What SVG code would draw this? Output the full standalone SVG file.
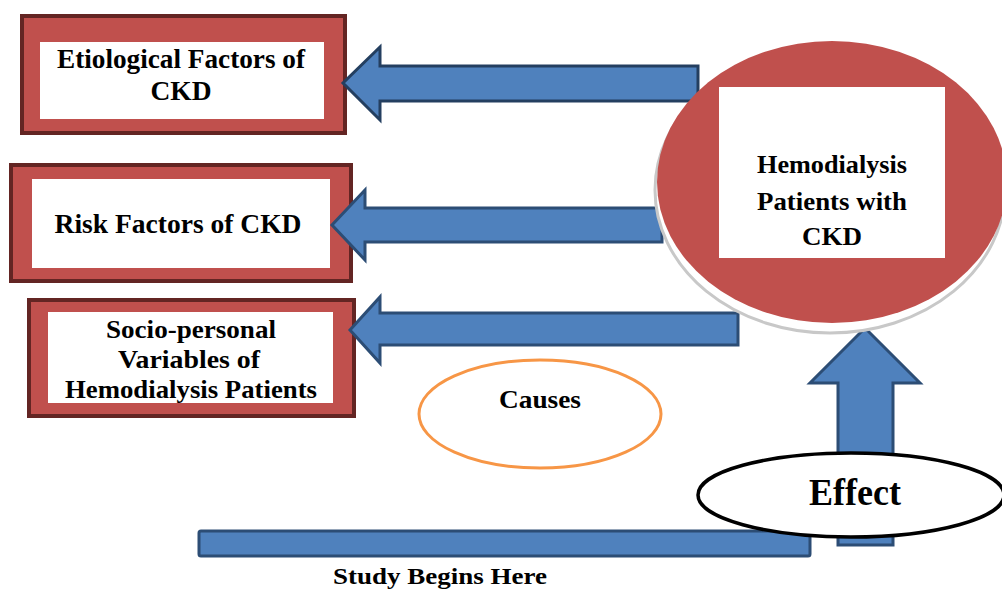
<svg xmlns="http://www.w3.org/2000/svg" width="1002" height="589" viewBox="0 0 1002 589">
<style>
.box{fill:#C0504D;stroke:#632523;stroke-width:4}
.inner{fill:#ffffff}
.t{font-family:"Liberation Serif","Times New Roman",serif;font-weight:bold;fill:#000;text-anchor:middle}
.arr{fill:#4F81BD;stroke:#2C4D75;stroke-width:3;stroke-linejoin:miter}
</style>
<rect width="1002" height="589" fill="#ffffff"/>
<g id="node-etiological">
<rect class="box" x="22" y="16" width="323" height="117"/>
<rect class="inner" x="40" y="42" width="284" height="77"/>
<text class="t" x="181" y="68" font-size="27" textLength="248" lengthAdjust="spacingAndGlyphs">Etiological Factors of</text>
<text class="t" x="181" y="100" font-size="27" textLength="61" lengthAdjust="spacingAndGlyphs">CKD</text>
</g>
<g id="node-risk">
<rect class="box" x="11" y="165" width="340" height="116"/>
<rect class="inner" x="32" y="179" width="298" height="89"/>
<text class="t" x="178" y="233" font-size="27" textLength="247" lengthAdjust="spacingAndGlyphs">Risk Factors of CKD</text>
</g>
<g id="node-socio">
<rect class="box" x="29" y="300" width="325" height="116"/>
<rect class="inner" x="48" y="312" width="285" height="91"/>
<text class="t" x="191" y="338" font-size="26" textLength="170" lengthAdjust="spacingAndGlyphs">Socio-personal</text>
<text class="t" x="189" y="368" font-size="26" textLength="142" lengthAdjust="spacingAndGlyphs">Variables of</text>
<text class="t" x="191" y="398" font-size="26" textLength="252" lengthAdjust="spacingAndGlyphs">Hemodialysis Patients</text>
</g>
<g id="connectors">
<path class="arr" style="stroke:#243F60" d="M698,66 L380,66 L380,47 L343,83 L380,120 L380,101 L698,101 Z"/>
<path class="arr" d="M662,208 L365,208 L365,190 L332,225 L365,260 L365,242 L662,242 Z"/>
<path class="arr" d="M738,313 L380,313 L380,297 L350,330 L380,363 L380,345 L738,345 Z"/>
<path class="arr" d="M838,545 L838,383 L810,383 L865,328 L920,383 L893,383 L893,545 Z"/>
<rect class="arr" x="199" y="531" width="611" height="25" rx="2"/>
</g>
<g id="node-hemodialysis">
<ellipse cx="830" cy="190" rx="175" ry="143" fill="#ffffff" stroke="#c8c8c8" stroke-width="3"/>
<ellipse cx="832" cy="182" rx="175" ry="141" fill="#C0504D"/>
<rect class="inner" x="719" y="87" width="226" height="171"/>
<text class="t" x="832" y="173" font-size="26" textLength="150" lengthAdjust="spacingAndGlyphs">Hemodialysis</text>
<text class="t" x="832" y="210" font-size="26" textLength="150" lengthAdjust="spacingAndGlyphs">Patients with</text>
<text class="t" x="832" y="245" font-size="26" textLength="60" lengthAdjust="spacingAndGlyphs">CKD</text>
</g>
<g id="node-causes">
<ellipse cx="540" cy="414" rx="121" ry="54" fill="#ffffff" stroke="#F79646" stroke-width="3"/>
<text class="t" x="540" y="408" font-size="25" textLength="82" lengthAdjust="spacingAndGlyphs">Causes</text>
</g>
<g id="node-effect">
<ellipse cx="851" cy="495" rx="153" ry="42" fill="#ffffff" stroke="#000000" stroke-width="3.5"/>
<text class="t" x="855" y="505" font-size="37" textLength="92" lengthAdjust="spacingAndGlyphs">Effect</text>
</g>
<g id="label-study">
<text class="t" x="440" y="584" font-size="23" textLength="214" lengthAdjust="spacingAndGlyphs">Study Begins Here</text>
</g>
</svg>
